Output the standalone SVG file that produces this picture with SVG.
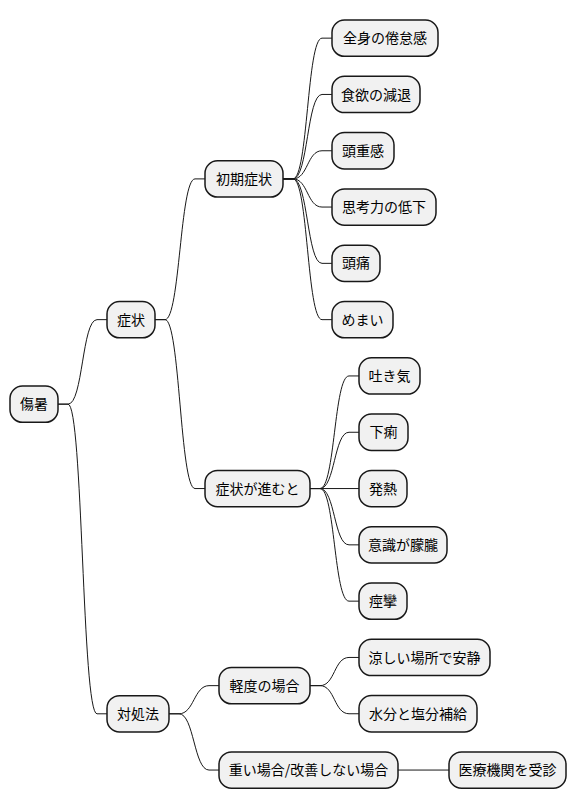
<svg xmlns="http://www.w3.org/2000/svg" width="577" height="809" viewBox="0 0 577 809">
<style>
.n rect{fill:#F1F1F1;stroke:#181818;stroke-width:1.5}
.n text{font-family:"Noto Sans CJK JP","Noto Sans",sans-serif;font-size:14px;fill:#000;text-anchor:middle}
#edges path{fill:none;stroke:#181818;stroke-width:1}
</style>
<rect width="577" height="809" fill="#FFFFFF"/>
<g id="edges">
<path d="M58 404.15 L68 404.15 C83 404.15 82 319.65 97 319.65 L107 319.65"/>
<path d="M58 404.15 L68 404.15 C83 404.15 82 713.8 97 713.8 L107 713.8"/>
<path d="M155 319.65 L165 319.65 C180 319.65 180 178.9 195 178.9 L205 178.9"/>
<path d="M155 319.65 L165 319.65 C180 319.65 180 488.55 195 488.55 L205 488.55"/>
<path d="M169 713.8 L179 713.8 C194 713.8 194 685.65 209 685.65 L219 685.65"/>
<path d="M169 713.8 L179 713.8 C194 713.8 194 770.05 209 770.05 L219 770.05"/>
<path d="M283 178.9 L293 178.9 C308 178.9 307 38.15 322 38.15 L332 38.15"/>
<path d="M283 178.9 L293 178.9 C308 178.9 307 94.45 322 94.45 L332 94.45"/>
<path d="M283 178.9 L293 178.9 C308 178.9 307 150.75 322 150.75 L332 150.75"/>
<path d="M283 178.9 L293 178.9 C308 178.9 307 207.05 322 207.05 L332 207.05"/>
<path d="M283 178.9 L293 178.9 C308 178.9 307 263.35 322 263.35 L332 263.35"/>
<path d="M283 178.9 L293 178.9 C308 178.9 307 319.65 322 319.65 L332 319.65"/>
<path d="M310 488.55 L320 488.55 C335 488.55 334 375.95 349 375.95 L359 375.95"/>
<path d="M310 488.55 L320 488.55 C335 488.55 334 432.25 349 432.25 L359 432.25"/>
<path d="M310 488.55 L359 488.55"/>
<path d="M310 488.55 L320 488.55 C335 488.55 334 544.85 349 544.85 L359 544.85"/>
<path d="M310 488.55 L320 488.55 C335 488.55 334 601.15 349 601.15 L359 601.15"/>
<path d="M310 685.65 L320 685.65 C335 685.65 334 657.45 349 657.45 L359 657.45"/>
<path d="M310 685.65 L320 685.65 C335 685.65 334 713.75 349 713.75 L359 713.75"/>
<path d="M398 770.05 L449 770.05"/>
</g>
<g id="n-root" class="n"><rect x="10" y="386" width="48" height="36.3" rx="12.5"/><text x="34" y="409.2">傷暑</text></g>
<g id="n-shojo" class="n"><rect x="107" y="301.5" width="48" height="36.3" rx="12.5"/><text x="131" y="324.7">症状</text></g>
<g id="n-taisho" class="n"><rect x="107" y="695.65" width="62" height="36.3" rx="12.5"/><text x="138" y="718.8">対処法</text></g>
<g id="n-shoki" class="n"><rect x="205" y="160.75" width="78" height="36.3" rx="12.5"/><text x="244" y="183.9">初期症状</text></g>
<g id="n-susumu" class="n"><rect x="205" y="470.4" width="105" height="36.3" rx="12.5"/><text x="257.5" y="493.6">症状が進むと</text></g>
<g id="n-keido" class="n"><rect x="219" y="667.5" width="91" height="36.3" rx="12.5"/><text x="264.5" y="690.7">軽度の場合</text></g>
<g id="n-omoi" class="n"><rect x="219" y="751.9" width="179" height="36.3" rx="12.5"/><text x="308.5" y="775.1">重い場合/改善しない場合</text></g>
<g id="n-l1" class="n"><rect x="332" y="20" width="106" height="36.3" rx="12.5"/><text x="385" y="43.2">全身の倦怠感</text></g>
<g id="n-l2" class="n"><rect x="332" y="76.3" width="88" height="36.3" rx="12.5"/><text x="376" y="99.5">食欲の減退</text></g>
<g id="n-l3" class="n"><rect x="332" y="132.6" width="62" height="36.3" rx="12.5"/><text x="363" y="155.8">頭重感</text></g>
<g id="n-l4" class="n"><rect x="332" y="188.9" width="104" height="36.3" rx="12.5"/><text x="384" y="212.1">思考力の低下</text></g>
<g id="n-l5" class="n"><rect x="332" y="245.2" width="48" height="36.3" rx="12.5"/><text x="356" y="268.4">頭痛</text></g>
<g id="n-l6" class="n"><rect x="332" y="301.5" width="61" height="36.3" rx="12.5"/><text x="362.5" y="324.7">めまい</text></g>
<g id="n-l7" class="n"><rect x="359" y="357.8" width="61" height="36.3" rx="12.5"/><text x="389.5" y="381">吐き気</text></g>
<g id="n-l8" class="n"><rect x="359" y="414.1" width="49" height="36.3" rx="12.5"/><text x="383.5" y="437.3">下痢</text></g>
<g id="n-l9" class="n"><rect x="359" y="470.4" width="48" height="36.3" rx="12.5"/><text x="383" y="493.6">発熱</text></g>
<g id="n-l10" class="n"><rect x="359" y="526.7" width="88" height="36.3" rx="12.5"/><text x="403" y="549.9">意識が朦朧</text></g>
<g id="n-l11" class="n"><rect x="359" y="583" width="48" height="36.3" rx="12.5"/><text x="383" y="606.2">痙攣</text></g>
<g id="n-l12" class="n"><rect x="359" y="639.3" width="131" height="36.3" rx="12.5"/><text x="424.5" y="662.5">涼しい場所で安静</text></g>
<g id="n-l13" class="n"><rect x="359" y="695.6" width="118" height="36.3" rx="12.5"/><text x="418" y="718.8">水分と塩分補給</text></g>
<g id="n-l14" class="n"><rect x="449" y="751.9" width="117" height="36.3" rx="12.5"/><text x="507.5" y="775.1">医療機関を受診</text></g>
</svg>
